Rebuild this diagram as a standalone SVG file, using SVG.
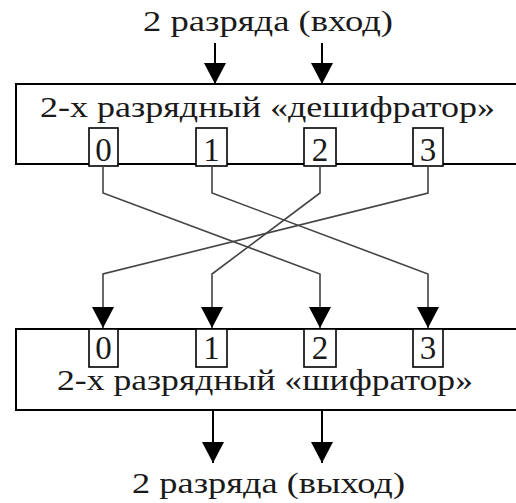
<svg xmlns="http://www.w3.org/2000/svg" width="516" height="503" viewBox="0 0 516 503">
  <style>
    .lbl { font-family: "Liberation Serif", "Times New Roman", serif; font-size: 30px; fill: #1a1a1a; }
    .dig { font-family: "Liberation Serif", "Times New Roman", serif; font-size: 33px; fill: #1a1a1a; text-anchor: middle; }
    .box { fill: #fff; stroke: #000; stroke-width: 2; }
    .pin { fill: #fff; stroke: #000; stroke-width: 1.6; }
    .arr { fill: none; stroke: #000; stroke-width: 2; marker-end: url(#head); }
    .wire { fill: none; stroke: #444; stroke-width: 1.6; marker-end: url(#head); }
  </style>
  <defs>
    <!-- filled triangular arrowhead, tip at the path end -->
    <marker id="head" markerUnits="userSpaceOnUse" markerWidth="22" markerHeight="22" refX="21" refY="11" orient="auto" viewBox="0 0 22 22">
      <path d="M0,0 L21,11 L0,22 Z" fill="#000"/>
    </marker>
  </defs>
  <rect width="516" height="503" fill="#fff"/>

  <!-- input label -->
  <g id="input">
    <text class="lbl" x="143" y="31" font-size="28" textLength="250" lengthAdjust="spacingAndGlyphs">2 разряда (вход)</text>
  </g>

  <!-- decoder block -->
  <g id="decoder">
    <rect class="box" x="16" y="84" width="510" height="80"/>
    <text class="lbl" x="40" y="117" textLength="455" lengthAdjust="spacingAndGlyphs">2-х разрядный «дешифратор»</text>
    <rect class="pin" x="89" y="128" width="29" height="38"/>
    <rect class="pin" x="196" y="128" width="31" height="38"/>
    <rect class="pin" x="304" y="128" width="32" height="38"/>
    <rect class="pin" x="413" y="128" width="30" height="38"/>
    <text class="dig" x="103.5" y="161">0</text>
    <text class="dig" x="211.5" y="161">1</text>
    <text class="dig" x="320" y="161">2</text>
    <text class="dig" x="428" y="161">3</text>
  </g>

  <!-- encoder block -->
  <g id="encoder">
    <rect class="box" x="16" y="329" width="510" height="81"/>
    <rect class="pin" x="89" y="329" width="29" height="38"/>
    <rect class="pin" x="196" y="329" width="31" height="38"/>
    <rect class="pin" x="304" y="329" width="32" height="38"/>
    <rect class="pin" x="413" y="329" width="30" height="38"/>
    <text class="dig" x="103.5" y="359" font-size="31">0</text>
    <text class="dig" x="211.5" y="359" font-size="31">1</text>
    <text class="dig" x="320" y="359" font-size="31">2</text>
    <text class="dig" x="428" y="359" font-size="31">3</text>
    <text class="lbl" x="57" y="390" textLength="416" lengthAdjust="spacingAndGlyphs">2-х разрядный «шифратор»</text>
  </g>

  <!-- output label -->
  <g id="output">
    <text class="lbl" x="132" y="493" textLength="273" lengthAdjust="spacingAndGlyphs">2 разряда (выход)</text>
  </g>

  <g id="connectors">
    <!-- inputs into decoder -->
    <path class="arr" d="M215,43 V84"/>
    <path class="arr" d="M322,43 V84"/>
    <!-- crossed wiring decoder -> encoder -->
    <path class="wire" d="M103,166 V193 L320,274 V328"/>
    <path class="wire" d="M212,166 V193 L428,274 V328"/>
    <path class="wire" d="M320,166 V193 L212,274 V328"/>
    <path class="wire" d="M428,166 V193 L103,274 V328"/>
    <!-- outputs from encoder -->
    <path class="arr" d="M213,410 V463"/>
    <path class="arr" d="M322,410 V463"/>
  </g>
</svg>
